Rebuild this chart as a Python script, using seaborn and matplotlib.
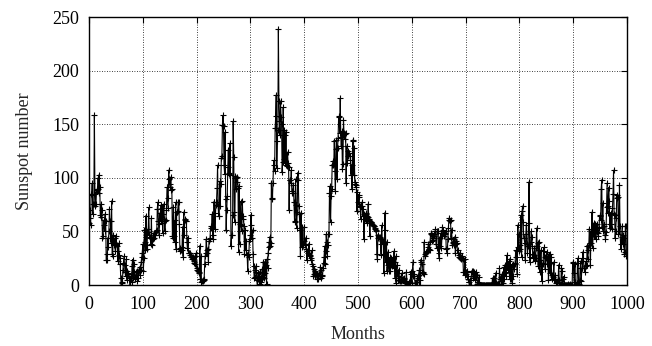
import matplotlib
matplotlib.use("Agg")
import matplotlib.pyplot as plt
import seaborn as sns
import numpy as np
import pandas as pd

# Monthly sunspot numbers (12 values per row, starting at month 0)
sunspots = [
    58.0, 62.6, 70.0, 55.7, 85.0, 83.5, 94.8, 66.3, 75.9, 75.5, 158.6, 85.2,
    73.3, 75.9, 89.2, 88.3, 90.0, 100.0, 85.4, 103.0, 91.2, 65.7, 63.3, 75.4,
    70.0, 43.5, 45.3, 56.4, 60.7, 50.7, 66.3, 59.8, 23.5, 23.2, 28.5, 44.0,
    35.0, 50.0, 71.0, 59.3, 59.7, 39.6, 78.4, 29.3, 27.1, 46.6, 37.6, 40.0,
    44.0, 32.0, 45.7, 38.0, 36.0, 31.7, 22.0, 39.0, 28.0, 25.0, 20.0, 6.7,
    0.0, 3.0, 1.7, 13.7, 20.7, 26.7, 18.8, 12.3, 8.2, 24.1, 13.2, 4.2,
    10.2, 11.2, 6.8, 6.5, 0.0, 0.0, 8.6, 3.2, 17.8, 23.7, 6.8, 20.0,
    12.5, 7.1, 5.4, 9.4, 12.5, 12.9, 3.6, 6.4, 11.8, 14.3, 17.0, 9.4,
    14.1, 21.2, 26.2, 30.0, 38.1, 12.8, 25.0, 51.3, 39.7, 32.5, 64.7, 33.5,
    37.6, 52.0, 49.0, 72.3, 46.4, 45.0, 44.0, 38.7, 62.5, 37.7, 43.0, 43.0,
    48.3, 44.0, 46.8, 47.0, 49.0, 50.0, 51.0, 71.3, 77.2, 59.7, 46.3, 57.0,
    67.3, 59.5, 74.7, 58.3, 72.0, 48.3, 66.0, 75.6, 61.3, 50.6, 59.7, 61.0,
    70.0, 91.0, 80.7, 71.7, 107.2, 99.3, 94.1, 91.1, 100.7, 88.7, 89.7, 46.0,
    43.8, 72.8, 45.7, 60.2, 39.9, 77.1, 33.8, 67.7, 68.5, 69.3, 77.8, 77.2,
    56.5, 31.9, 34.2, 32.9, 32.7, 35.8, 54.2, 26.5, 68.1, 46.3, 60.9, 61.4,
    59.7, 59.7, 40.2, 34.4, 44.3, 30.0, 30.0, 30.0, 28.2, 28.0, 26.0, 25.7,
    24.0, 26.0, 25.0, 22.0, 20.2, 20.0, 27.0, 29.7, 16.0, 14.0, 14.0, 13.0,
    12.0, 11.0, 36.6, 6.0, 26.8, 3.0, 3.3, 4.0, 4.3, 5.0, 5.7, 19.2,
    27.4, 30.0, 43.0, 32.9, 29.8, 33.3, 21.9, 40.8, 42.7, 44.1, 54.7, 53.3,
    53.5, 66.1, 46.3, 42.7, 77.7, 77.4, 52.6, 66.8, 74.8, 77.8, 90.6, 111.8,
    73.9, 64.2, 64.3, 96.7, 73.6, 94.4, 118.6, 120.3, 148.8, 158.2, 148.1, 112.0,
    104.0, 142.5, 80.1, 51.0, 70.1, 83.3, 109.8, 126.3, 104.4, 103.6, 132.2, 102.3,
    36.0, 46.2, 46.7, 64.9, 152.7, 119.5, 67.7, 58.5, 101.4, 90.0, 99.7, 95.7,
    100.9, 90.8, 31.1, 92.2, 38.0, 57.0, 77.3, 56.2, 50.5, 78.6, 61.3, 64.0,
    54.6, 29.0, 51.2, 32.9, 41.1, 28.4, 27.7, 12.7, 29.3, 26.3, 40.9, 43.2,
    46.8, 65.4, 55.7, 43.8, 51.3, 28.5, 17.5, 6.6, 7.9, 14.0, 17.7, 12.2,
    4.4, 0.0, 11.6, 11.2, 3.9, 12.3, 1.0, 7.9, 3.2, 5.6, 15.1, 7.9,
    21.7, 11.6, 6.3, 21.8, 11.2, 19.0, 1.0, 24.2, 16.0, 30.0, 35.0, 40.0,
    45.0, 36.5, 39.0, 95.5, 80.3, 80.7, 95.0, 112.0, 116.2, 106.5, 146.0, 157.3,
    177.3, 109.3, 134.0, 145.0, 238.9, 171.6, 153.0, 140.0, 171.7, 156.3, 150.3, 105.0,
    114.7, 165.7, 118.0, 145.0, 140.0, 113.7, 143.0, 112.0, 111.0, 124.0, 114.0, 110.0,
    70.0, 98.0, 98.0, 95.0, 107.2, 88.0, 86.0, 86.0, 93.7, 77.0, 60.0, 58.7,
    98.7, 74.7, 53.0, 68.3, 104.7, 97.7, 73.5, 66.0, 51.0, 27.3, 67.0, 35.2,
    54.0, 37.5, 37.0, 41.0, 54.3, 38.0, 37.0, 44.0, 34.0, 23.2, 31.5, 30.0,
    28.0, 38.7, 26.7, 28.3, 23.0, 25.2, 32.2, 20.0, 18.0, 8.0, 15.0, 10.5,
    13.0, 8.0, 11.0, 10.0, 6.0, 9.0, 6.0, 10.0, 10.0, 8.0, 17.0, 14.0,
    6.5, 8.0, 9.0, 15.7, 20.7, 26.3, 36.3, 20.0, 32.0, 47.2, 40.2, 27.3,
    37.2, 47.6, 47.7, 85.4, 92.3, 59.0, 83.0, 89.7, 111.5, 112.3, 116.0, 112.7,
    134.7, 106.0, 87.4, 127.2, 134.8, 99.2, 128.0, 137.2, 157.3, 157.0, 141.5, 174.0,
    138.0, 129.2, 143.3, 108.5, 113.0, 154.2, 141.5, 136.0, 141.0, 142.0, 94.7, 129.5,
    114.0, 125.3, 120.0, 123.3, 123.5, 120.0, 117.0, 103.0, 112.0, 89.7, 134.0, 135.5,
    103.0, 127.5, 96.3, 94.0, 93.0, 91.0, 69.3, 87.0, 77.3, 84.3, 82.0, 74.0,
    72.7, 62.0, 74.0, 77.2, 73.7, 64.2, 71.0, 43.0, 66.5, 61.7, 67.0, 66.0,
    58.0, 64.0, 63.0, 75.7, 62.0, 61.0, 45.8, 60.0, 59.0, 59.0, 57.0, 56.0,
    56.0, 55.0, 55.5, 53.0, 52.3, 51.0, 50.0, 29.3, 24.0, 47.0, 44.0, 45.0,
    45.0, 44.0, 38.0, 28.4, 55.7, 41.5, 41.0, 40.0, 11.1, 28.5, 67.4, 51.4,
    21.4, 39.9, 12.6, 18.6, 31.0, 17.1, 12.9, 25.7, 13.5, 19.5, 25.0, 18.0,
    22.0, 23.8, 15.7, 31.7, 21.0, 6.7, 26.9, 1.5, 18.4, 11.0, 8.4, 5.1,
    14.4, 4.2, 4.0, 4.0, 7.3, 11.1, 4.3, 6.0, 5.7, 6.9, 5.8, 3.0,
    2.0, 4.0, 12.4, 1.1, 0.0, 0.0, 0.0, 3.0, 2.4, 1.5, 12.5, 9.9,
    1.6, 12.6, 21.7, 8.4, 8.2, 10.6, 2.1, 0.0, 0.0, 4.6, 2.7, 8.6,
    6.9, 9.3, 13.9, 0.0, 5.0, 23.7, 21.0, 19.5, 11.5, 12.3, 10.5, 40.1,
    27.0, 29.0, 30.0, 31.0, 32.0, 31.2, 35.0, 38.7, 33.5, 32.6, 39.8, 48.2,
    47.8, 47.0, 40.8, 42.0, 44.0, 46.0, 48.0, 50.0, 51.8, 38.5, 34.5, 50.0,
    50.0, 50.8, 29.5, 25.0, 44.3, 36.0, 48.3, 34.1, 45.3, 54.3, 51.0, 48.0,
    45.3, 48.3, 48.0, 50.6, 33.4, 34.8, 29.8, 43.1, 53.0, 62.3, 61.0, 60.0,
    61.0, 44.1, 51.4, 37.5, 39.0, 40.5, 37.6, 42.7, 44.4, 29.4, 41.0, 38.3,
    39.0, 29.6, 32.7, 27.7, 26.4, 25.6, 30.0, 26.3, 24.0, 27.0, 25.0, 24.0,
    12.0, 12.2, 9.6, 23.8, 10.0, 12.0, 12.7, 12.0, 5.7, 8.0, 2.6, 0.0,
    0.0, 4.5, 0.0, 12.3, 13.5, 13.5, 6.7, 8.0, 11.7, 4.7, 10.5, 12.3,
    7.2, 9.2, 0.9, 2.5, 2.0, 7.7, 0.3, 0.2, 0.4, 0.0, 0.0, 0.0,
    0.0, 0.0, 0.0, 0.0, 0.0, 0.0, 0.0, 0.0, 0.0, 0.0, 0.0, 0.0,
    0.0, 0.0, 0.0, 0.0, 0.0, 0.0, 6.6, 0.0, 2.4, 6.1, 0.8, 1.1,
    11.3, 1.9, 0.7, 0.0, 1.0, 1.3, 0.5, 15.6, 5.2, 3.9, 7.9, 10.1,
    0.0, 10.3, 1.9, 16.6, 5.5, 11.2, 18.3, 8.4, 15.3, 27.8, 16.7, 14.3,
    22.2, 12.0, 5.7, 23.8, 5.8, 14.9, 18.5, 2.3, 8.1, 19.3, 14.5, 20.1,
    19.2, 32.2, 26.2, 31.6, 9.8, 55.9, 35.5, 47.2, 31.5, 33.5, 37.2, 65.0,
    26.3, 68.8, 73.7, 58.8, 44.3, 43.6, 38.8, 23.2, 47.8, 56.4, 38.1, 29.9,
    36.4, 57.9, 96.2, 26.4, 21.2, 40.0, 50.0, 45.0, 36.7, 25.6, 28.9, 28.4,
    34.9, 22.4, 25.4, 34.5, 53.1, 36.4, 39.6, 18.0, 40.3, 33.0, 11.8, 23.4,
    32.5, 20.7, 3.7, 20.2, 19.6, 35.0, 31.4, 26.1, 14.9, 27.5, 25.1, 30.6,
    19.2, 26.6, 4.5, 19.4, 29.3, 10.8, 20.6, 25.9, 5.2, 9.0, 7.9, 9.7,
    21.5, 4.3, 5.7, 9.2, 1.7, 1.8, 2.5, 4.8, 4.4, 18.8, 4.4, 0.0,
    0.0, 0.9, 16.1, 13.5, 1.5, 5.6, 7.9, 2.1, 0.0, 0.4, 0.0, 0.0,
    0.0, 0.0, 0.6, 0.0, 0.0, 0.0, 0.5, 0.0, 0.0, 0.0, 0.0, 20.4,
    21.6, 10.8, 0.0, 19.4, 2.8, 0.0, 0.0, 1.4, 20.5, 25.2, 0.0, 0.8,
    5.0, 15.5, 22.4, 3.8, 15.4, 15.4, 30.9, 25.4, 15.7, 15.6, 11.7, 22.0,
    17.7, 18.2, 36.7, 24.0, 32.4, 37.1, 52.5, 39.6, 18.9, 50.6, 39.5, 68.1,
    34.6, 47.4, 57.8, 46.0, 56.3, 56.7, 42.9, 53.7, 49.6, 57.2, 48.2, 46.1,
    52.8, 64.4, 65.0, 61.1, 89.1, 98.0, 54.3, 76.4, 50.4, 54.7, 57.0, 46.6,
    43.0, 49.4, 72.3, 95.0, 67.5, 73.9, 90.8, 78.3, 52.8, 57.2, 67.6, 56.5,
    52.2, 72.1, 84.6, 107.1, 66.3, 65.1, 43.9, 50.7, 62.1, 84.4, 81.2, 82.1,
    47.5, 50.1, 93.4, 54.6, 38.1, 33.4, 45.2, 54.9, 37.9, 46.2, 43.5, 28.9,
    30.9, 55.5, 55.1, 26.9,
]
months = list(range(len(sunspots)))

x_ticks = [0, 100, 200, 300, 400, 500, 600, 700, 800, 900, 1000]
y_ticks = [0, 50, 100, 150, 200, 250]

sns.set_theme(style="white")
plt.rcParams["font.family"] = ["Liberation Serif", "DejaVu Serif"]

df = pd.DataFrame({"Months": months, "Sunspot number": sunspots})

fig = plt.figure(figsize=(6.52, 3.46), dpi=100)
ax = fig.add_axes([89 / 652, 1 - 285 / 346, (627 - 89) / 652, (285 - 17) / 346])

sns.lineplot(data=df, x="Months", y="Sunspot number", ax=ax, color="black",
             linewidth=0.8, marker="+", markersize=5, markeredgewidth=0.8,
             markeredgecolor="black", estimator=None, sort=False)

ax.set_xlim(0, 1000)
ax.set_ylim(0, 250)
ax.set_xticks(x_ticks)
ax.set_yticks(y_ticks)
ax.set_xlabel("Months", fontsize=13, labelpad=9)
ax.set_ylabel("Sunspot number", fontsize=13, labelpad=14)
ax.tick_params(axis="both", which="both", direction="in", length=4, width=0.8,
               top=True, right=True, labelsize=13, colors="black")
ax.tick_params(axis="x", pad=8)
ax.tick_params(axis="y", pad=7)
ax.grid(True, linestyle=(0, (1, 2)), color="black", linewidth=0.6)
ax.set_axisbelow(True)
for s in ax.spines.values():
    s.set_color("black")
    s.set_linewidth(1.0)

fig.savefig("out.png", dpi=100)
